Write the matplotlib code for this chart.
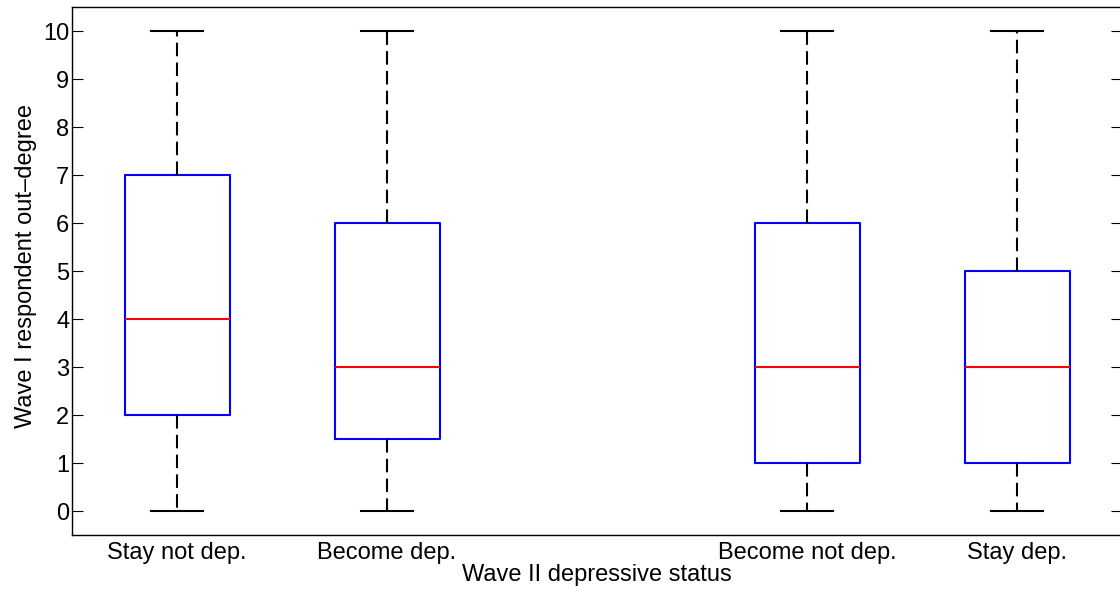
import matplotlib.pyplot as plt

plt.rcParams['font.family'] = ['Liberation Sans', 'DejaVu Sans']

groups = ["Stay not dep.", "Become dep.", "Become not dep.", "Stay dep."]
positions = [1, 2, 4, 5]
lower = [0, 0, 0, 0]
q1 = [2, 1.5, 1, 1]
median = [4, 3, 3, 3]
q3 = [7, 6, 6, 5]
upper = [10, 10, 10, 10]

stats = []
for i in range(len(groups)):
    stats.append({"whislo": lower[i], "q1": q1[i], "med": median[i],
                  "q3": q3[i], "whishi": upper[i], "fliers": []})

fig = plt.figure(figsize=(11.2, 5.9), dpi=100)
ax = fig.add_axes([72 / 1120, 55 / 590, 1050 / 1120, 528 / 590])

lw = 1.5
ax.bxp(stats, positions=positions, widths=0.5, capwidths=0.25,
       showfliers=False,
       boxprops=dict(color="blue", linewidth=lw),
       medianprops=dict(color="red", linewidth=lw),
       whiskerprops=dict(color="black", linewidth=lw, linestyle=(0, (6.5, 3))),
       capprops=dict(color="black", linewidth=lw))

ax.set_xlim(0.5, 5.5)
ax.set_ylim(-0.5, 10.5)
ax.set_yticks(range(0, 11))
ax.set_xticks(positions)
ax.set_xticklabels(groups)
ax.tick_params(axis="x", length=0, labelsize=17, pad=5)
ax.tick_params(axis="y", direction="in", length=8, right=True, labelsize=17, pad=2)
for s in ax.spines.values():
    s.set_linewidth(1.0)
ax.set_xlabel("Wave II depressive status", fontsize=17, labelpad=0)
ax.set_ylabel("Wave I respondent out\u2013degree", fontsize=17)
ax.yaxis.set_label_coords(-35 / 1050, 0.51)

fig.savefig("out.png", dpi=100)
